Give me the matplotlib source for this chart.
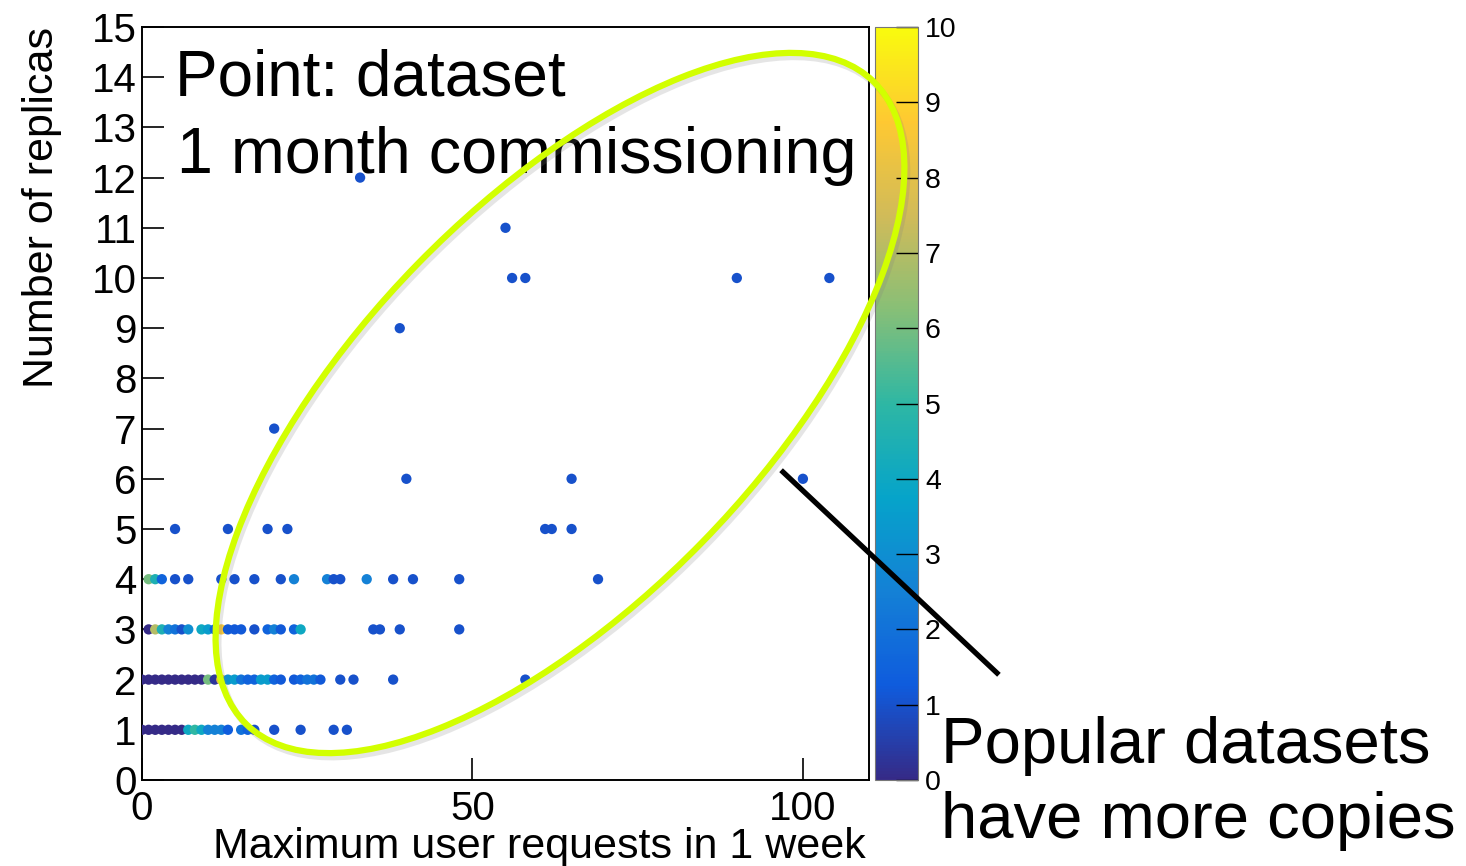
import numpy as np
import matplotlib
matplotlib.use("Agg")
import matplotlib.pyplot as plt
from matplotlib.colors import LinearSegmentedColormap
from matplotlib.patches import Ellipse
from matplotlib.lines import Line2D
import matplotlib.patheffects as pe

plt.rcParams['font.family'] = ['Liberation Sans', 'DejaVu Sans']

# ROOT "kBird" palette
bird_stops = [0.0, 0.125, 0.25, 0.375, 0.5, 0.625, 0.75, 0.875, 1.0]
bird_r = [0.2082, 0.0592, 0.0780, 0.0232, 0.1802, 0.5301, 0.8186, 0.9956, 0.9764]
bird_g = [0.1664, 0.3599, 0.5041, 0.6419, 0.7178, 0.7492, 0.7328, 0.7862, 0.9832]
bird_b = [0.5293, 0.8684, 0.8385, 0.7914, 0.6425, 0.4662, 0.3499, 0.1968, 0.0539]

# data: each row = number of replicas, x = max user requests, c = colour value
rep1_x = [0, 1, 2, 3, 4, 5, 6, 7, 8, 9, 10, 11, 12, 13, 15, 16, 17, 20, 24, 29, 31]
rep1_c = [0, 0, 0, 0, 0, 0, 0, 4, 5, 4, 2.5, 2.5, 2.5, 1.3, 2, 1.5, 1, 1, 1, 1, 1]

rep2_x = [0, 1, 2, 3, 4, 5, 6, 7, 8, 9, 10, 11, 12, 13, 14, 15, 16, 17, 18, 19, 20,
          21, 23, 24, 25, 26, 27, 30, 32, 38, 58]
rep2_c = [0, 0, 0, 0, 0, 0, 0, 0, 0, 0, 6, 0.3, 8, 3, 3.5, 2, 1.5, 1.5, 3.5, 3.5, 1.5,
          1.2, 1.2, 1.5, 2, 2, 1.2, 1, 1, 1, 1]

rep3_x = [1, 2, 3, 4, 5, 6, 7, 9, 10, 11, 12, 13, 14, 15, 17, 19, 20, 21, 23, 24,
          35, 36, 39, 48]
rep3_c = [0, 7, 4.5, 2.5, 2, 1, 3, 4, 3.5, 1.5, 8.5, 1.2, 1.2, 1.2, 1, 1.5, 2.5, 1.2, 1.5, 4,
          1, 1, 1, 1]

rep4_x = [1, 2, 3, 5, 7, 12, 14, 17, 21, 23, 28, 29, 30, 34, 38, 41, 48, 69]
rep4_c = [6, 4.5, 1.5, 1, 1, 1, 1, 1, 1, 2.5, 2.5, 1, 1, 2.5, 1, 1, 1, 1]

rep5_x = [5, 13, 19, 22, 61, 62, 65]
rep6_x = [40, 65, 100]
rep7_x = [20]
rep9_x = [39]
rep10_x = [56, 58, 90, 104]
rep11_x = [55]
rep12_x = [33]

x_all, y_all, c_all = [], [], []
for n, xs, cs in [(1, rep1_x, rep1_c), (2, rep2_x, rep2_c), (3, rep3_x, rep3_c),
                  (4, rep4_x, rep4_c), (5, rep5_x, None), (6, rep6_x, None),
                  (7, rep7_x, None), (9, rep9_x, None), (10, rep10_x, None),
                  (11, rep11_x, None), (12, rep12_x, None)]:
    x_all += xs
    y_all += [n] * len(xs)
    c_all += cs if cs is not None else [1] * len(xs)

bird = LinearSegmentedColormap.from_list(
    "bird", [(s, (r, g, b)) for s, r, g, b in zip(bird_stops, bird_r, bird_g, bird_b)], N=256)

fig = plt.figure(figsize=(14.66, 8.66), dpi=100)
ax = fig.add_axes([142 / 1466, 86 / 866, 727 / 1466, 753 / 866])
cax = fig.add_axes([875 / 1466, 86 / 866, 43 / 1466, 753 / 866])

sc = ax.scatter(x_all, y_all, c=c_all, cmap=bird, vmin=0, vmax=10, s=55,
                linewidths=0, zorder=3)

ax.set_xlim(0, 110)
ax.set_ylim(0, 15)
ax.set_xticks([0, 50, 100])
ax.set_yticks(range(16))
ax.tick_params(axis='both', direction='in', length=16, width=1.2, labelsize=29)
ax.tick_params(axis='y', pad=4)
ax.tick_params(axis='x', pad=7)
for s in ax.spines.values():
    s.set_linewidth(1.4)

cb = fig.colorbar(sc, cax=cax, ticks=range(11))
cb.outline.set_linewidth(0.8)
cb.outline.set_edgecolor('#777777')
cax.tick_params(direction='in', length=16, width=1.0, labelsize=20.5, pad=5)

fig.text(866 / 1466, 8 / 866, "Maximum user requests in 1 week", fontsize=31,
         ha='right', va='baseline')
fig.text(62 / 1466, 1 - 27 / 866, "Number of replicas", fontsize=31,
         rotation=90, ha='right', va='top')

fig.text(175 / 1466, 1 - 95 / 866, "Point: dataset", fontsize=46, va='baseline')
fig.text(177 / 1466, 1 - 173 / 866, "1 month commissioning", fontsize=46.5, va='baseline')
fig.text(941 / 1466, 1 - 763 / 866, "Popular datasets", fontsize=47, va='baseline')
fig.text(941 / 1466, 1 - 838 / 866, "have more copies", fontsize=47, va='baseline')

# highlighted region, in inches on the figure
ell = Ellipse((5.60, 4.63), 8.98, 3.98, angle=45.7, transform=fig.dpi_scale_trans,
              fill=False, edgecolor='#d2ff00', linewidth=4.5, zorder=10)
ell.set_path_effects([pe.SimpleLineShadow(offset=(2, -3), shadow_color='gray', alpha=0.2),
                      pe.Normal()])
fig.add_artist(ell)

fig.add_artist(Line2D([7.83, 9.97], [8.66 - 4.72, 8.66 - 6.73], transform=fig.dpi_scale_trans,
                      color='black', linewidth=3.8, zorder=11))

fig.savefig("out.png", dpi=100)
